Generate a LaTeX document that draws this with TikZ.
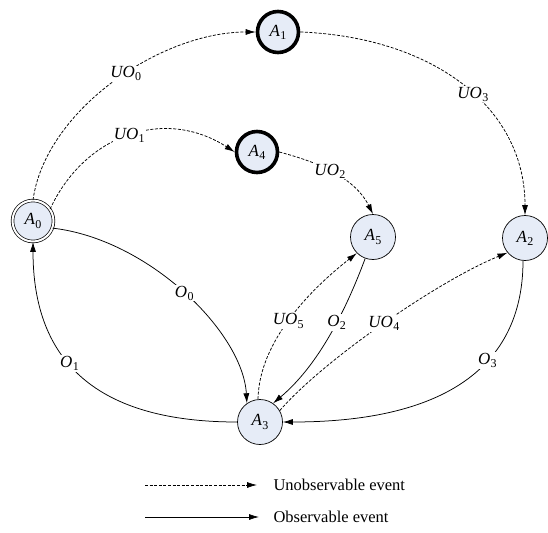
\documentclass[tikz,border=0pt]{standalone}
\usepackage{fontspec}
\setmainfont{Liberation Serif}
\usetikzlibrary{arrows.meta}
\definecolor{nodefill}{HTML}{E6ECF7}
\newcommand{\ev}[2]{\textit{#1}\kern0.3pt\raisebox{-0.4ex}{\fontsize{12}{12}\selectfont #2}}
\tikzset{
  st/.style={circle, draw=black, line width=0.7pt, fill=nodefill, minimum size=45pt, inner sep=0pt, font=\fontsize{17}{19}\selectfont},
  thickst/.style={st, line width=3.6pt, minimum size=41pt},
  initst/.style={st, double=white, double distance=2pt, line width=0.7pt, minimum size=41pt},
  uo/.style={-{Latex[length=10pt,width=6pt]}, line width=0.75pt, dash pattern=on 3pt off 1.6pt},
  ob/.style={-{Latex[length=10pt,width=6pt]}, line width=0.75pt},
  lab/.style={fill=white, inner sep=1pt, font=\fontsize{17}{19}\selectfont},
  legtext/.style={anchor=west, font=\fontsize{16.5}{19}\selectfont}
}
\begin{document}
\begin{tikzpicture}[x=1pt, y=-1pt]
\useasboundingbox (0,0) rectangle (548,532);
\node[initst] (A0) at (33,221) {\ev{A}{0}};
\node[thickst] (A1) at (278,32) {\ev{A}{1}};
\node[thickst] (A4) at (257,152) {\ev{A}{4}};
\node[st] (A5) at (373,237) {\ev{A}{5}};
\node[st] (A2) at (525,238) {\ev{A}{2}};
\node[st] (A3) at (260,422) {\ev{A}{3}};

\draw[uo] (A0.north) .. controls +(12,-89) and +(-96,0) .. node[lab, pos=0.55] {\ev{UO}{0}} (A1.west);
\draw[uo] (A1.east) .. controls +(130,5) and +(0,-110) .. node[lab, pos=0.55] {\ev{UO}{3}} (A2.north);
\draw[uo] (A0.35) .. controls +(35,-75) and +(-70,-45) .. node[lab] {\ev{UO}{1}} (A4.west);
\draw[uo] (A4.east) .. controls +(30,8) and +(-20,-40) .. node[lab] {\ev{UO}{2}} (A5.north);
\draw[ob] (A0.-20) .. controls +(96,11) and +(-4,-71) .. node[lab] {\ev{O}{0}} (A3.125);
\draw[ob] (A3.west) .. controls +(-140,0) and +(0,120) .. node[lab, pos=0.57] {\ev{O}{1}} (A0.south);
\draw[uo] (A3.95) .. controls +(1,-58) and +(-46,36) .. node[lab, pos=0.48] {\ev{UO}{5}} (A5.225);
\draw[ob] (A5.250) .. controls +(-15,40) and +(50,-42) .. node[lab, pos=0.45] {\ev{O}{2}} (A3.55);
\draw[uo] (A3.30) .. controls +(43,-50) and +(-69,28) .. node[lab] {\ev{UO}{4}} (A2.220);
\draw[ob] (A2.265) .. controls +(0,100) and +(170,0) .. node[lab, pos=0.4] {\ev{O}{3}} (A3.east);

\coordinate (L1a) at (145,485);
\coordinate (L1b) at (257,485);
\coordinate (L2a) at (145,517);
\coordinate (L2b) at (259,517);
\draw[uo] (L1a) -- (L1b);
\draw[ob] (L2a) -- (L2b);
\node[legtext] (T1) at (270,485) {Unobservable event};
\node[legtext] (T2) at (270,517) {Observable event};
\end{tikzpicture}
\end{document}
